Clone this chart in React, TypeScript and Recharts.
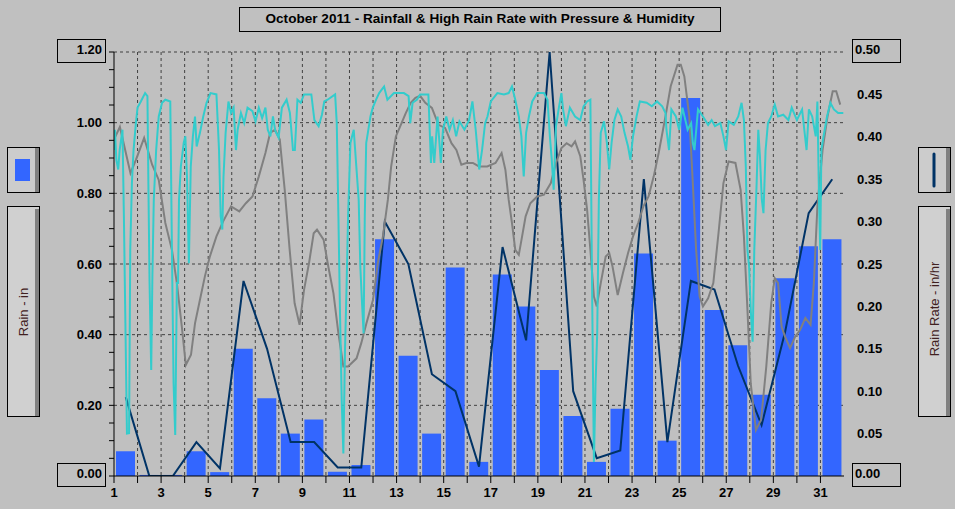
import { Bar, CartesianGrid, ComposedChart, Line, XAxis, YAxis } from "recharts";

const FONT = '"Liberation Sans", Arial, sans-serif';

// October 2011, one entry per day
const days = [1, 2, 3, 4, 5, 6, 7, 8, 9, 10, 11, 12, 13, 14, 15, 16, 17, 18, 19, 20, 21, 22, 23, 24, 25, 26, 27, 28, 29, 30, 31];
const rainfallIn = [
  0.07, 0.003, 0.003, 0.07, 0.011, 0.36, 0.22, 0.12, 0.16, 0.012, 0.031, 0.67, 0.34, 0.12, 0.59, 0.04,
  0.57, 0.48, 0.3, 0.17, 0.04, 0.19, 0.63, 0.1, 1.07, 0.47, 0.37, 0.23, 0.56, 0.65, 0.67,
];
const highRainRate = [
  0.093, 0, 0, 0.04, 0.009, 0.23, 0.15, 0.04, 0.04, 0.01, 0.01, 0.3, 0.25, 0.12, 0.1, 0.011,
  0.27, 0.16, 0.5, 0.1, 0.021, 0.03, 0.35, 0.04, 0.23, 0.22, 0.13, 0.06, 0.17, 0.31, 0.35,
];

// [day of month, barometer inHg]
const pressureReadings: [number, number][] = [
  [1.0, 30.352], [1.25, 30.388], [1.7, 30.257], [1.93, 30.295], [2.28, 30.357], [2.62, 30.281], [2.9, 30.238],
  [3.18, 30.116], [3.46, 30.04], [3.67, 29.946], [3.88, 29.823], [4.05, 29.714], [4.27, 29.743], [4.44, 29.832],
  [4.65, 29.899], [4.86, 29.965], [5.07, 30.021], [5.35, 30.078], [5.63, 30.12], [5.97, 30.163], [6.32, 30.149],
  [6.6, 30.172], [6.88, 30.191], [7.15, 30.248], [7.43, 30.314], [7.63, 30.371], [7.84, 30.38], [8.04, 30.352],
  [8.25, 30.21], [8.46, 30.04], [8.67, 29.889], [8.88, 29.828], [9.07, 29.927], [9.28, 30.002], [9.48, 30.087],
  [9.62, 30.097], [9.9, 30.069], [10.1, 29.993], [10.32, 29.917], [10.53, 29.804], [10.74, 29.71], [10.94, 29.71],
  [11.3, 29.733], [11.5, 29.776], [11.72, 29.832], [12.0, 29.899], [12.2, 30.002], [12.42, 30.078], [12.63, 30.182],
  [12.77, 30.276], [12.97, 30.361], [13.18, 30.394], [13.39, 30.427], [13.6, 30.456], [13.8, 30.47], [14.0, 30.476],
  [14.22, 30.456], [14.5, 30.442], [14.78, 30.394], [15.06, 30.385], [15.33, 30.342], [15.54, 30.323], [15.75, 30.281],
  [15.96, 30.286], [16.24, 30.286], [16.5, 30.276], [16.85, 30.276], [17.2, 30.286], [17.46, 30.314], [17.62, 30.267],
  [17.76, 30.182], [17.9, 30.116], [18.04, 30.04], [18.19, 30.026], [18.33, 30.078], [18.48, 30.135], [18.68, 30.172],
  [18.97, 30.191], [19.26, 30.196], [19.55, 30.229], [19.77, 30.286], [20.0, 30.328], [20.22, 30.342], [20.43, 30.333],
  [20.58, 30.347], [20.8, 30.305], [20.94, 30.238], [21.09, 30.154], [21.23, 30.04], [21.38, 29.908], [21.5, 29.88],
  [21.67, 29.946], [21.88, 30.021], [22.03, 30.031], [22.17, 29.993], [22.39, 29.912], [22.61, 29.974], [22.83, 30.031],
  [23.04, 30.078], [23.26, 30.116], [23.48, 30.163], [23.7, 30.191], [23.92, 30.248], [24.13, 30.314], [24.42, 30.418],
  [24.64, 30.503], [24.93, 30.564], [25.07, 30.564], [25.22, 30.531], [25.43, 30.418], [25.58, 30.229], [25.72, 30.04],
  [25.87, 29.908], [26.01, 29.88], [26.23, 29.903], [26.45, 29.946], [26.67, 30.087], [26.88, 30.229], [27.1, 30.29],
  [27.39, 30.286], [27.61, 30.21], [27.75, 30.078], [27.9, 29.87], [28.04, 29.662], [28.26, 29.53], [28.48, 29.559],
  [28.7, 29.71], [28.91, 29.889], [29.06, 29.96], [29.2, 29.946], [29.35, 29.823], [29.49, 29.795], [29.71, 29.762],
  [29.93, 29.795], [30.14, 29.814], [30.36, 29.847], [30.58, 29.828], [30.72, 29.946], [30.87, 30.163], [31.09, 30.323],
  [31.3, 30.418], [31.52, 30.489], [31.67, 30.489], [31.84, 30.451],
];

// [day of month, outside humidity %]
const humidityReadings: [number, number][] = [
  [1.0, 77.8], [1.04, 82.4], [1.1, 75.6], [1.18, 73.4], [1.24, 77.8], [1.36, 82.4], [1.42, 62.8], [1.49, 36.3],
  [1.55, 13.6], [1.64, 13.7], [1.69, 55.2], [1.76, 70.3], [1.83, 77.8], [1.93, 83.9], [2.0, 87.4], [2.14, 88.8],
  [2.32, 90.7], [2.42, 90.0], [2.46, 70.3], [2.51, 47.7], [2.58, 28.0], [2.63, 49.2], [2.69, 66.6], [2.79, 77.8],
  [2.9, 85.4], [3.04, 88.5], [3.18, 89.2], [3.39, 88.8], [3.46, 55.2], [3.53, 25.0], [3.6, 13.3], [3.67, 47.7],
  [3.72, 47.7], [3.76, 66.6], [3.84, 74.1], [3.96, 79.4], [4.03, 80.9], [4.1, 71.8], [4.18, 52.2], [4.26, 74.1],
  [4.35, 80.9], [4.44, 85.4], [4.51, 78.6], [4.65, 81.7], [4.79, 85.4], [4.93, 88.5], [5.1, 90.7], [5.35, 90.4],
  [5.46, 77.8], [5.53, 62.8], [5.6, 59.8], [5.65, 71.8], [5.74, 81.7], [5.86, 88.8], [5.97, 86.2], [6.08, 87.4],
  [6.18, 77.8], [6.25, 82.4], [6.39, 86.2], [6.53, 83.9], [6.67, 87.4], [6.88, 86.6], [7.01, 84.3], [7.15, 87.4],
  [7.29, 85.0], [7.43, 87.4], [7.53, 82.4], [7.64, 80.9], [7.75, 85.4], [7.85, 82.1], [7.99, 80.6], [8.13, 87.4],
  [8.33, 89.2], [8.47, 86.2], [8.6, 77.8], [8.68, 77.8], [8.79, 89.2], [8.93, 88.5], [9.07, 90.4], [9.38, 90.4],
  [9.51, 84.6], [9.69, 83.2], [9.83, 85.8], [9.93, 88.8], [10.07, 89.2], [10.39, 90.4], [10.46, 83.9], [10.53, 62.8],
  [10.6, 40.1], [10.67, 21.2], [10.74, 9.1], [10.81, 32.6], [10.88, 47.7], [10.94, 62.8], [11.04, 79.4], [11.18, 82.4],
  [11.29, 74.1], [11.39, 66.6], [11.46, 51.4], [11.54, 42.4], [11.6, 36.3], [11.65, 62.8], [11.71, 79.4], [11.78, 81.7],
  [11.89, 85.4], [11.99, 87.4], [12.13, 89.2], [12.26, 90.7], [12.47, 92.2], [12.61, 89.2], [12.89, 90.7], [13.31, 90.7],
  [13.51, 90.0], [13.58, 83.9], [13.68, 88.5], [13.86, 89.2], [14.0, 90.4], [14.35, 90.4], [14.46, 74.9], [14.51, 80.9],
  [14.6, 74.9], [14.74, 85.4], [14.88, 74.9], [14.97, 82.4], [15.11, 85.4], [15.25, 82.4], [15.39, 84.6], [15.53, 80.9],
  [15.67, 84.3], [15.88, 82.4], [16.08, 84.6], [16.22, 88.8], [16.36, 82.4], [16.51, 73.4], [16.63, 77.8], [16.76, 83.9],
  [16.86, 85.4], [17.0, 88.8], [17.28, 90.7], [17.56, 90.4], [17.76, 90.7], [17.9, 92.2], [18.04, 89.2], [18.19, 85.4],
  [18.3, 80.9], [18.4, 71.8], [18.5, 81.7], [18.62, 85.4], [18.76, 88.8], [18.97, 90.7], [19.26, 90.7], [19.41, 89.2],
  [19.51, 80.9], [19.59, 75.6], [19.67, 68.8], [19.77, 83.2], [19.9, 87.7], [20.0, 90.7], [20.07, 87.0], [20.19, 83.2],
  [20.36, 87.4], [20.58, 85.4], [20.8, 84.6], [20.94, 87.7], [21.09, 88.8], [21.23, 89.2], [21.3, 47.7], [21.38, 7.2],
  [21.45, 25.0], [21.52, 36.3], [21.59, 66.6], [21.67, 81.7], [21.81, 84.3], [21.93, 79.4], [22.03, 73.4], [22.13, 79.4],
  [22.25, 84.6], [22.39, 87.0], [22.54, 85.4], [22.68, 81.7], [22.83, 78.6], [22.93, 75.6], [23.04, 80.9], [23.19, 85.4],
  [23.33, 88.8], [23.62, 88.5], [23.84, 87.7], [24.06, 88.8], [24.28, 87.7], [24.42, 86.2], [24.46, 82.4], [24.57, 77.8],
  [24.67, 87.0], [24.86, 85.4], [25.0, 82.4], [25.14, 87.4], [25.36, 82.4], [25.51, 83.9], [25.58, 79.4], [25.65, 77.8],
  [25.8, 87.0], [26.01, 85.4], [26.23, 83.5], [26.38, 84.6], [26.52, 83.2], [26.75, 83.9], [26.88, 80.9], [26.99, 77.8],
  [27.1, 84.3], [27.32, 83.5], [27.51, 85.4], [27.65, 88.5], [27.75, 84.6], [27.83, 74.1], [27.9, 55.2], [27.97, 51.4],
  [28.04, 41.6], [28.12, 34.4], [28.19, 55.2], [28.29, 70.3], [28.36, 82.4], [28.43, 76.4], [28.51, 66.6], [28.58, 63.5],
  [28.67, 77.8], [28.77, 83.9], [28.91, 85.4], [29.06, 88.1], [29.2, 85.4], [29.42, 85.8], [29.64, 84.6], [29.78, 87.4],
  [30.0, 84.6], [30.22, 87.0], [30.41, 77.8], [30.51, 87.0], [30.65, 85.4], [30.8, 80.9], [30.87, 88.8], [30.94, 66.6],
  [30.99, 55.2], [31.04, 77.8], [31.13, 80.9], [31.28, 85.4], [31.42, 88.5], [31.57, 87.0], [31.75, 86.2], [31.97, 86.2],
];

const rainTicks = [0, 0.05, 0.1, 0.15, 0.2, 0.25, 0.3, 0.35, 0.4, 0.45, 0.5, 0.55, 0.6, 0.65, 0.7, 0.75, 0.8, 0.85, 0.9, 0.95, 1.0, 1.05, 1.1, 1.15, 1.2];
const rainGrid = [0.2, 0.4, 0.6, 0.8, 1.0, 1.2];
const rateTicks = [0, 0.05, 0.1, 0.15, 0.2, 0.25, 0.3, 0.35, 0.4, 0.45, 0.5];
const rateMinorTicks = [0, 0.02, 0.04, 0.06, 0.08, 0.1, 0.12, 0.14, 0.16, 0.18, 0.2, 0.22, 0.24, 0.26, 0.28, 0.3, 0.32, 0.34, 0.36, 0.38, 0.4, 0.42, 0.44, 0.46, 0.48, 0.5];
const dayGrid = days.slice(1);

const dailyTable = days.map((d, i) => ({ x: d + 0.5, rain: rainfallIn[i], rate: highRainRate[i] }));
const pressureTable = pressureReadings.map(([t, p]) => ({ t, p }));
const humidityTable = humidityReadings.map(([t, h]) => ({ t, h }));

const tickFont = { fill: "#000", fontSize: 13, fontWeight: "bold", fontFamily: FONT };

function RainTick(props: any) {
  const { x, y, payload } = props;
  const v = payload.value as number;
  const hundredths = Math.round(v * 100);
  if (hundredths % 20 !== 0) return <g />;
  const boxed = hundredths === 0 || hundredths === 120;
  return (
    <g>
      {boxed && <rect x={x - 44.5} y={y - 12.5} width={48} height={23} fill="none" stroke="#000" />}
      <text x={x} y={y + (boxed ? 1.5 : 4.5)} textAnchor="end" fontFamily={FONT} fontSize={13} fontWeight="bold" fill="#000">
        {v.toFixed(2)}
      </text>
    </g>
  );
}

function RateTick(props: any) {
  const { x, y, payload } = props;
  const v = payload.value as number;
  const boxed = v === 0 || v === 0.5;
  return (
    <g>
      {boxed && <rect x={x - 4.5} y={y - 12.5} width={48} height={23} fill="none" stroke="#000" />}
      <text x={boxed ? x - 2 : x} y={y + (boxed ? 1.5 : 4.5)} textAnchor="start" fontFamily={FONT} fontSize={13} fontWeight="bold" fill="#000">
        {v.toFixed(2)}
      </text>
    </g>
  );
}

function Panel({ x, y, h, light }: { x: number; y: number; h: number; light?: boolean }) {
  return (
    <g>
      <rect x={x + 0.5} y={y + 0.5} width={32} height={h} fill={light ? "#d0d0d0" : "#cccccc"} stroke="#000" />
      <rect x={x + 28} y={y + (light ? 3 : 1)} width={4} height={h - (light ? 3 : 1)} fill="#808080" />
    </g>
  );
}

export default function App() {
  return (
    <div style={{ position: "absolute", left: 0, top: 0, width: 955, height: 509, background: "#c0c0c0", fontFamily: FONT }}>
      <ComposedChart width={955} height={509} data={dailyTable} margin={{ top: 52, right: 51, bottom: 3, left: 54 }}>
        <CartesianGrid
          xAxisId="day"
          yAxisId="left"
          horizontalValues={rainGrid}
          verticalValues={dayGrid}
          stroke="#404040"
          strokeDasharray="3 3"
        />
        <XAxis
          xAxisId="day"
          dataKey="x"
          type="number"
          domain={[1, 32]}
          allowDataOverflow
          ticks={days}
          interval={0}
          tickFormatter={(v: number) => (v % 2 === 1 ? String(v) : "")}
          tickSize={7}
          tickMargin={5}
          height={30}
          tick={tickFont}
          tickLine={{ stroke: "#000" }}
          axisLine={{ stroke: "#000" }}
        />
        <XAxis xAxisId="fine" dataKey="t" type="number" domain={[1, 32]} allowDataOverflow hide height={0} />
        <YAxis
          yAxisId="left"
          domain={[0, 1.2]}
          allowDataOverflow
          ticks={rainTicks}
          interval={0}
          width={60}
          tickSize={5}
          tickMargin={7}
          tick={(p: any) => <RainTick {...p} />}
          tickLine={{ stroke: "#000" }}
          axisLine={{ stroke: "#000" }}
        />
        <YAxis yAxisId="press" hide width={0} domain={[29.4, 30.6]} allowDataOverflow />
        <YAxis yAxisId="hum" hide width={0} domain={[4, 100]} allowDataOverflow />
        <YAxis
          yAxisId="rateMinor"
          orientation="right"
          domain={[0, 0.5]}
          allowDataOverflow
          ticks={rateMinorTicks}
          interval={0}
          width={0}
          tickSize={5}
          tickFormatter={() => ""}
          tickLine={{ stroke: "#000" }}
          axisLine={{ stroke: "#000" }}
        />
        <YAxis
          yAxisId="rate"
          orientation="right"
          domain={[0, 0.5]}
          allowDataOverflow
          ticks={rateTicks}
          interval={0}
          width={60}
          tickSize={6}
          tickMargin={7}
          tickLine={false}
          axisLine={false}
          tick={(p: any) => <RateTick {...p} />}
        />
        <Bar xAxisId="day" yAxisId="left" dataKey="rain" fill="#3366ff" barSize={19} isAnimationActive={false} />
        <Line xAxisId="day" yAxisId="rate" dataKey="rate" type="linear" stroke="#003366" strokeWidth={2} dot={false} isAnimationActive={false} />
        <Line data={pressureTable} xAxisId="fine" yAxisId="press" dataKey="p" type="linear" stroke="#808080" strokeWidth={2} dot={false} isAnimationActive={false} />
        <Line data={humidityTable} xAxisId="fine" yAxisId="hum" dataKey="h" type="linear" stroke="#33cccc" strokeWidth={2} dot={false} isAnimationActive={false} />
      </ComposedChart>

      <svg width={955} height={509} style={{ position: "absolute", left: 0, top: 0, pointerEvents: "none" }}>
        <rect x={239.5} y={7.5} width={481} height={24} fill="none" stroke="#000" />
        <text x={480} y={23} textAnchor="middle" fontFamily={FONT} fontSize={13.6} fontWeight="bold" fill="#000">
          October 2011 - Rainfall &amp; High Rain Rate with Pressure &amp; Humidity
        </text>

        <Panel x={7} y={147} h={45} />
        <rect x={15} y={159} width={15} height={22} fill="#3366ff" />
        <Panel x={7} y={206} h={210} light />
        <text transform="translate(28,312) rotate(-90)" textAnchor="middle" fontFamily={FONT} fontSize={13} fill="#402020">
          Rain - in
        </text>

        <Panel x={918} y={147} h={45} />
        <line x1={934} y1={154} x2={934} y2={186} stroke="#003366" strokeWidth={3} strokeLinecap="round" />
        <Panel x={918} y={206} h={210} light />
        <text transform="translate(939,309) rotate(-90)" textAnchor="middle" fontFamily={FONT} fontSize={13} fill="#402020">
          Rain Rate - in/hr
        </text>
      </svg>
    </div>
  );
}
